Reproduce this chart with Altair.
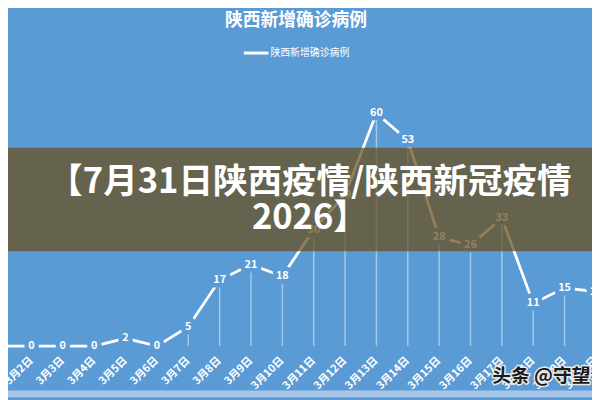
import altair as alt
import pandas as pd

# ---- data ----
dates = ["3月1日", "3月2日", "3月3日", "3月4日", "3月5日", "3月6日", "3月7日",
         "3月8日", "3月9日", "3月10日", "3月11日", "3月12日", "3月13日",
         "3月14日", "3月15日", "3月16日", "3月17日", "3月18日", "3月19日", "3月20日"]
cases = [0, 0, 0, 0, 2, 0, 5, 17, 21, 18, 30, 39, 60, 53, 28, 26, 33, 11, 15, 14]

title_text = "陕西新增确诊病例"
legend_text = "陕西新增确诊病例"
banner_lines = ["【7月31日陕西疫情/陕西新冠疫情", "2026】"]
watermark = "头条 @守望者"

BG = "#5a9bd5"
FONT = "Noto Sans CJK SC"
W, H = 592, 392

df = pd.DataFrame({"date": dates, "cases": cases})

x = alt.X("date:N", sort=dates,
          scale=alt.Scale(type="point", range=[-8, 596], padding=0), axis=None)
y = alt.Y("cases:Q", scale=alt.Scale(domain=[-13.22, 86.44], nice=False, zero=False),
          axis=None)

base = alt.Chart(df).encode(x=x, y=y)

line = base.mark_line(color="white", strokeWidth=2.8, clip=True)
drops = base.mark_rule(color="white", opacity=0.45, strokeWidth=1.5, clip=True).encode(
    y2=alt.datum(0))
halo = base.mark_text(font=FONT, fontSize=11, fontWeight="bold", color=BG, stroke=BG,
                      strokeWidth=9, strokeJoin="round", baseline="middle",
                      clip=True).encode(text="cases:Q")
labels = base.mark_text(font=FONT, fontSize=11, fontWeight="bold", color="white",
                        baseline="middle", clip=True).encode(text="cases:Q")

xlabels = alt.Chart(df).mark_text(font=FONT, angle=315, align="right", baseline="middle",
                                  fontSize=11, fontWeight="bold", color="white",
                                  clip=True).encode(
    x=x, y=alt.value(353), text="date:N")

one = alt.Data(values=[{}])

title = alt.Chart(one).mark_text(text=title_text, font=FONT, fontSize=18, fontWeight="bold",
                                 color="white", align="center", baseline="middle").encode(
    x=alt.value(292), y=alt.value(11))

legend_line = alt.Chart(one).mark_rule(color="white", strokeWidth=3).encode(
    x=alt.value(239), x2=alt.value(264), y=alt.value(43))
legend_label = alt.Chart(one).mark_text(text=legend_text, font=FONT, fontSize=10,
                                        color="white", align="left",
                                        baseline="middle").encode(
    x=alt.value(266), y=alt.value(43))

banner = alt.Chart(one).mark_rect(color="#6a4e1a", opacity=0.72).encode(
    x=alt.value(0), x2=alt.value(W), y=alt.value(139), y2=alt.value(244))
banner1 = alt.Chart(one).mark_text(text=banner_lines[0], font=FONT, fontSize=35,
                                   fontWeight="bold", color="white", align="center",
                                   baseline="middle").encode(
    x=alt.value(306), y=alt.value(174))
banner2 = alt.Chart(one).mark_text(text=banner_lines[1], font=FONT, fontSize=35,
                                   fontWeight="bold", color="white", align="center",
                                   baseline="middle").encode(
    x=alt.value(306), y=alt.value(210))

wm_halo = alt.Chart(one).mark_text(text=watermark, font=FONT, fontSize=19, fontWeight="bold",
                                   color="#dddddd", stroke="#e8e8e8", strokeWidth=3,
                                   strokeJoin="round", align="left",
                                   baseline="middle").encode(
    x=alt.value(491), y=alt.value(370))
wm = alt.Chart(one).mark_text(text=watermark, font=FONT, fontSize=19, fontWeight="bold",
                              color="#1a1a1a", align="left", baseline="middle").encode(
    x=alt.value(491), y=alt.value(370))

band = alt.Chart(one).mark_rect(color="#a6c5e8").encode(
    x=alt.value(0), x2=alt.value(W), y=alt.value(385), y2=alt.value(H))

chart = alt.layer(
    drops, line, halo, labels, xlabels, title, legend_line, legend_label,
    banner, banner1, banner2, wm_halo, wm, band
).properties(
    width=W, height=H, background=BG, padding=0,
    autosize=alt.AutoSizeParams(type="none")
).configure_view(stroke=None)

chart.save("out.html", embed_options={"renderer": "svg", "actions": False})
